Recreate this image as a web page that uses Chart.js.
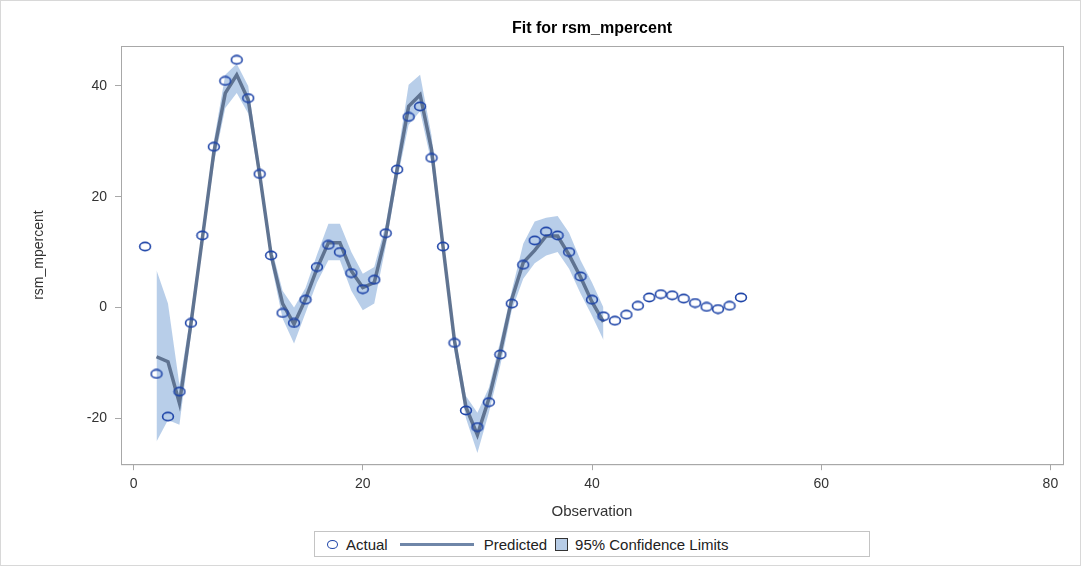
<!DOCTYPE html>
<html>
<head>
<meta charset="utf-8">
<script src="https://cdn.jsdelivr.net/npm/chart.js@4/dist/chart.umd.min.js"></script>
<style>
  html, body { margin: 0; padding: 0; background: #fff; }
  #wrap { position: relative; width: 1081px; height: 566px; box-sizing: border-box; border: 1px solid #d8d8d8; }
  #chart { position: absolute; left: 0; top: 0; }
  #legend {
    position: absolute; left: 313px; top: 530px; height: 26px; width: 556px;
    box-sizing: border-box; border: 1px solid #c4c4c4; background: #fff;
    font-family: "Liberation Sans", Arial, sans-serif; font-size: 15px; color: #222;
    display: flex; align-items: center; padding-left: 12px;
  }
  .mk { display: inline-block; width: 9px; height: 7px; border: 1.5px solid #1f45a8; border-radius: 50%; margin-right: 8px; }
  .ln { display: inline-block; width: 74px; height: 3px; background: #6f86a8; margin: 0 10px 0 12px; }
  .sw { display: inline-block; width: 11px; height: 11px; background: #b7cce6; border: 1px solid #333; margin: 0 7px 0 8px; }
</style>
</head>
<body>
<div id="wrap">
  <canvas id="chart" width="1081" height="566"></canvas>
  <div id="legend">
    <span class="mk"></span><span>Actual</span>
    <span class="ln"></span><span>Predicted</span>
    <span class="sw"></span><span>95% Confidence Limits</span>
  </div>
</div>
<script>
const observations = Array.from({ length: 53 }, (_, i) => i + 1);

const actual = [
  11.0, -12.0, -19.7, -15.2, -2.8, 13.0, 29.0, 40.9, 44.7, 37.8,
  24.1, 9.4, -1.0, -2.8, 1.4, 7.3, 11.3, 10.0, 6.2, 3.3,
  5.0, 13.4, 24.9, 34.4, 36.3, 27.0, 11.0, -6.4, -18.6, -21.6,
  -17.1, -8.5, 0.7, 7.7, 12.1, 13.7, 13.0, 10.0, 5.6, 1.4,
  -1.6, -2.4, -1.3, 0.3, 1.8, 2.4, 2.2, 1.6, 0.8, 0.1,
  -0.3, 0.3, 1.8
];

// predicted and limits exist for observations 2..41
const predicted = [
  null, -8.9, -9.8, -17.3, -3.0, 12.5, 28.0, 38.7, 42.0, 37.5,
  24.0, 9.5, 0.7, -3.0, 1.5, 7.0, 11.7, 11.7, 6.6, 3.6,
  4.5, 13.0, 25.0, 36.3, 38.4, 28.5, 11.0, -6.0, -18.0, -23.0,
  -16.5, -8.0, 1.5, 8.1, 10.3, 12.9, 12.9, 9.5, 5.5, 1.0,
  -2.6
];

const upper95 = [
  null, 6.7, 0.7, -14.0, -1.0, 14.0, 30.0, 42.0, 44.0, 40.0,
  25.5, 11.0, 3.0, 0.0, 3.5, 9.5, 15.1, 15.1, 10.0, 6.1,
  7.3, 15.0, 27.0, 40.2, 42.0, 31.0, 12.5, -4.5, -16.0, -19.0,
  -14.5, -6.0, 3.0, 11.5, 15.5, 16.2, 16.5, 13.5, 8.5, 4.5,
  0.0
];

const lower95 = [
  null, -24.2, -20.3, -21.2, -5.0, 11.0, 26.0, 36.0, 38.7, 35.0,
  22.5, 8.0, -2.0, -6.5, -1.0, 4.5, 8.5, 8.5, 3.0, -0.5,
  0.7, 11.0, 23.0, 33.0, 35.4, 26.0, 9.5, -8.0, -20.0, -26.3,
  -19.0, -10.5, -0.5, 5.2, 8.0, 9.4, 10.0, 7.0, 2.5, -1.5,
  -5.9
];

const xTicks = [0, 20, 40, 60, 80];
const yTicks = [-20, 0, 20, 40];

const pts = arr => arr.map((v, i) => ({ x: observations[i], y: v })).filter(p => p.y !== null);

// open ellipse marker, a bit wider than tall like the original
const ring = document.createElement('canvas');
ring.width = 14;
ring.height = 11;
const rc = ring.getContext('2d');
rc.strokeStyle = '#1f45a8';
rc.lineWidth = 1.6;
rc.beginPath();
rc.ellipse(7, 5.5, 5.4, 4.1, 0, 0, Math.PI * 2);
rc.stroke();

const frame = {
  id: 'frame',
  afterDraw(chart) {
    const { ctx, chartArea: a } = chart;
    ctx.save();
    ctx.strokeStyle = '#a8a8a8';
    ctx.lineWidth = 1;
    ctx.strokeRect(a.left + 0.5, a.top + 0.5, a.right - a.left, a.bottom - a.top);
    ctx.fillStyle = '#000';
    ctx.font = 'bold 16px "Liberation Sans", Arial, sans-serif';
    ctx.textAlign = 'center';
    ctx.textBaseline = 'middle';
    ctx.fillText('Fit for rsm_mpercent', (a.left + a.right) / 2, 28);
    ctx.restore();
  }
};

new Chart(document.getElementById('chart'), {
  type: 'line',
  data: {
    datasets: [
      {
        label: 'Upper',
        data: pts(upper95),
        borderWidth: 0,
        pointRadius: 0,
        backgroundColor: 'rgba(160, 190, 226, 0.75)',
        fill: '+1',
        order: 3
      },
      {
        label: 'Lower',
        data: pts(lower95),
        borderWidth: 0,
        pointRadius: 0,
        fill: false,
        order: 3
      },
      {
        label: 'Predicted',
        data: pts(predicted),
        borderColor: 'rgba(85, 105, 135, 0.9)',
        borderWidth: 3.5,
        pointRadius: 0,
        fill: false,
        order: 2
      },
      {
        label: 'Actual',
        data: pts(actual),
        showLine: false,
        pointStyle: ring,
        pointRadius: 5,
        order: 1
      }
    ]
  },
  options: {
    responsive: false,
    animation: false,
    layout: { padding: { top: 45, right: 19, bottom: 42, left: 26 } },
    plugins: {
      legend: { display: false },
      tooltip: { enabled: false }
    },
    scales: {
      x: {
        type: 'linear',
        min: -1.1,
        max: 81.1,
        afterBuildTicks: ax => { ax.ticks = xTicks.map(v => ({ value: v })); },
        grid: { drawOnChartArea: false, tickLength: 6, tickColor: '#a8a8a8' },
        border: { color: '#a8a8a8' },
        ticks: { color: '#333', font: { family: 'Liberation Sans', size: 14 }, padding: 6, maxRotation: 0 },
        title: { display: true, text: 'Observation', color: '#333', font: { family: 'Liberation Sans', size: 15 }, padding: { top: 4 } }
      },
      y: {
        min: -28.3,
        max: 47.2,
        afterBuildTicks: ax => { ax.ticks = yTicks.map(v => ({ value: v })); },
        afterFit: ax => { ax.width = 94; },
        grid: { drawOnChartArea: false, tickLength: 6, tickColor: '#a8a8a8' },
        border: { color: '#a8a8a8' },
        ticks: { color: '#333', font: { family: 'Liberation Sans', size: 14 }, padding: 8 },
        title: { display: true, text: 'rsm_mpercent', color: '#333', font: { family: 'Liberation Sans', size: 14 } }
      }
    }
  },
  plugins: [frame]
});
</script>
</body>
</html>
